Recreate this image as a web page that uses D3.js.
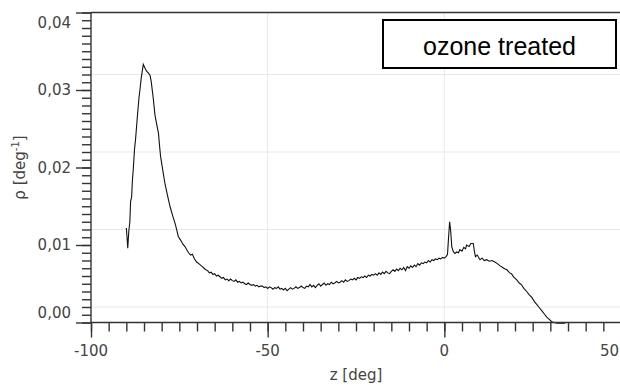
<!DOCTYPE html>
<html><head><meta charset="utf-8">
<script src="https://cdn.jsdelivr.net/npm/d3@7"></script>
<style>body{margin:0;background:#fff}svg{display:block}</style>
</head><body>
<svg id="c" width="620" height="385"></svg>
<script>
const zVals = [-90.0,-89.8,-89.6,-89.3,-89.0,-88.8,-88.5,-88.3,-88.0,-87.7,-87.4,-87.1,-86.8,-86.4,-86.1,-85.8,-85.5,-85.2,-84.9,-84.6,-84.2,-83.8,-83.3,-83.0,-82.8,-82.4,-81.9,-81.5,-80.9,-80.6,-80.3,-79.7,-79.1,-78.4,-77.6,-76.9,-76.2,-75.7,-75.3,-74.6,-74.0,-73.4,-72.9,-72.4,-71.8,-71.3,-70.7,-70.1,-69.5,-69.0,-68.5,-68.0,-67.5,
-67.0,-66.5,-66.0,-65.5,-65.0,-64.5,-64.0,-63.5,-63.0,-62.5,-62.0,-61.5,-61.0,-60.5,-60.0,-59.5,-59.0,-58.5,-58.0,-57.5,-57.0,-56.5,-56.0,-55.5,-55.0,-54.5,-54.0,-53.5,-53.0,-52.5,-52.0,-51.5,-51.0,-50.5,-50.0,-49.5,-49.0,-48.5,-48.0,-47.5,-47.0,-46.5,-46.0,-45.5,-45.0,-44.5,-44.0,-43.5,-43.0,-42.5,-42.0,-41.5,-41.0,-40.5,-40.0,-39.5,-39.0,-38.5,-38.0,-37.5,-37.0,-36.5,-36.0,-35.5,-35.0,-34.5,-34.0,-33.5,-33.0,-32.5,-32.0,-31.5,-31.0,-30.5,-30.0,-29.5,-29.0,-28.5,-28.0,-27.5,-27.0,-26.5,-26.0,-25.5,-25.0,-24.5,-24.0,-23.5,-23.0,-22.5,-22.0,-21.5,-21.0,-20.5,-20.0,-19.5,-19.0,-18.5,-18.0,-17.5,-17.0,-16.5,-16.0,-15.5,-15.0,-14.5,-14.0,-13.5,-13.0,-12.5,-12.0,-11.5,-11.0,-10.5,-10.0,-9.5,-9.0,-8.5,-8.0,-7.5,-7.0,-6.5,-6.0,-5.5,-5.0,-4.5,-4.0,-3.5,-3.0,-2.5,-2.0,-1.5,-1.0,-0.5,0.0,0.5,0.9,1.2,1.5,1.8,2.1,2.5,3.0,3.5,4.0,4.4,5.0,5.5,6.0,6.3,7.0,7.5,8.2,8.5,8.8,9.3,10.1,10.7,11.3,12.0,12.7,13.5,14.3,15.0,15.8,16.5,17.2,17.7,18.5,19.0,19.6,20.5,21.2,21.8,22.5,23.3,24.0,24.8,25.5,26.2,26.9,27.6,28.3,29.0,29.7,30.4,31.0,32.0,33.0,34.2];
const rhoVals = [0.0122,0.0110,0.0096,0.0118,0.0130,0.0156,0.0162,0.0182,0.0200,0.0223,0.0236,0.0253,0.0270,0.0291,0.0302,0.0315,0.0324,0.0333,0.0330,0.0327,0.0324,0.0322,0.0319,0.0312,0.0305,0.0290,0.0268,0.0258,0.0244,0.0228,0.0214,0.0197,0.0180,0.0165,0.0149,0.0138,0.0128,0.0119,0.0111,0.0106,0.0101,0.0098,0.0094,0.0090,0.0087,0.0088,0.0082,0.0078,0.0076,0.0074,0.0072,0.0070,0.0068,
0.0067,0.0064,0.0065,0.0062,0.0063,0.0060,0.0061,0.0059,0.0057,0.0058,0.0055,0.0056,0.0054,0.0056,0.0054,0.0053,0.0055,0.0052,0.0053,0.0051,0.0052,0.0050,0.0049,0.0051,0.0049,0.0048,0.0049,0.0047,0.0048,0.0046,0.0047,0.0047,0.0045,0.0046,0.0044,0.0046,0.0045,0.0043,0.0045,0.0044,0.0046,0.0043,0.0044,0.0042,0.0044,0.0041,0.0043,0.0045,0.0043,0.0044,0.0046,0.0044,0.0045,0.0047,0.0045,0.0044,0.0047,0.0046,0.0049,0.0046,0.0048,0.0045,0.0048,0.0050,0.0047,0.0049,0.0051,0.0048,0.0050,0.0049,0.0052,0.0050,0.0051,0.0053,0.0051,0.0052,0.0054,0.0052,0.0055,0.0053,0.0054,0.0056,0.0055,0.0057,0.0055,0.0058,0.0057,0.0059,0.0058,0.0060,0.0058,0.0061,0.0060,0.0062,0.0061,0.0063,0.0061,0.0064,0.0062,0.0065,0.0063,0.0066,0.0064,0.0063,0.0066,0.0068,0.0066,0.0069,0.0067,0.0070,0.0068,0.0071,0.0067,0.0072,0.0070,0.0073,0.0071,0.0074,0.0072,0.0076,0.0074,0.0077,0.0076,0.0078,0.0077,0.0080,0.0078,0.0081,0.0080,0.0082,0.0081,0.0083,0.0082,0.0084,0.0083,0.0085,0.0088,0.0110,0.0130,0.0118,0.0098,0.0092,0.0089,0.0091,0.0090,0.0094,0.0092,0.0097,0.0095,0.0100,0.0098,0.0102,0.0102,0.0092,0.0085,0.0087,0.0081,0.0083,0.0080,0.0081,0.0079,0.0080,0.0078,0.0076,0.0073,0.0071,0.0069,0.0068,0.0064,0.0063,0.0059,0.0055,0.0051,0.0049,0.0044,0.0040,0.0036,0.0032,0.0027,0.0023,0.0019,0.0015,0.0011,0.0007,0.0004,0.0001,0.0000,-0.0001,-0.0001,-0.0001];
const xTicks = [-100,-50,0,50];
const yTicks = [0,0.01,0.02,0.03,0.04];
const yGrid = [0.002,0.012,0.022,0.032];
const legendText = "ozone treated";

const svg = d3.select("#c");
const x = d3.scaleLinear().domain([-100,50]).range([91,621]);
const y = d3.scaleLinear().domain([0,0.04]).range([322.5,12.5]);
const axisColor = "#333", font = "DejaVu Sans, sans-serif";

// grid
svg.append("g").selectAll("line").data(xTicks.slice(1)).join("line")
  .attr("x1",d=>x(d)).attr("x2",d=>x(d)).attr("y1",y(0.04)).attr("y2",y(0))
  .attr("stroke","#e8e8e8").attr("stroke-width",1);
svg.append("g").selectAll("line").data(yGrid).join("line")
  .attr("x1",x(-100)).attr("x2",620).attr("y1",d=>y(d)).attr("y2",d=>y(d))
  .attr("stroke","#e8e8e8").attr("stroke-width",1);

// curve
const pts = zVals.map((z,i)=>[z,rhoVals[i]]);
svg.append("path").datum(pts)
  .attr("d", d3.line().x(d=>x(d[0])).y(d=>y(d[1])))
  .attr("fill","none").attr("stroke","#111").attr("stroke-width",1.1);

// axes
const xMinor = d3.range(-100,50.1,5);
const yMinor = d3.range(0,41).map(i=>i/1000);
const gx = svg.append("g").attr("transform",`translate(0,${y(0)})`);
gx.call(d3.axisBottom(x).tickValues(xMinor).tickSize(9).tickFormat(""));
gx.append("g").call(d3.axisBottom(x).tickValues(xTicks).tickSize(15).tickFormat(""));
const gy = svg.append("g").attr("transform",`translate(${x(-100)},0)`);
gy.call(d3.axisLeft(y).tickValues(yMinor).tickSize(9).tickFormat(""));
gy.append("g").call(d3.axisLeft(y).tickValues(yTicks).tickSize(15).tickFormat(""));
svg.selectAll(".domain").remove();
svg.selectAll(".tick line").attr("stroke",axisColor).attr("stroke-width",1.4);
// axis lines
svg.append("line").attr("x1",x(-100)).attr("x2",620).attr("y1",y(0)).attr("y2",y(0)).attr("stroke",axisColor).attr("stroke-width",1.4);
svg.append("line").attr("x1",x(-100)).attr("x2",x(-100)).attr("y1",y(0.04)).attr("y2",y(0)).attr("stroke",axisColor).attr("stroke-width",1.4);
svg.append("line").attr("x1",x(-100)).attr("x2",620).attr("y1",y(0.04)).attr("y2",y(0.04)).attr("stroke",axisColor).attr("stroke-width",1.4);

// tick labels
svg.append("g").selectAll("text").data(xTicks).join("text")
  .attr("x",d=>Math.min(x(d),619)).attr("y",356)
  .attr("text-anchor",d=>x(d)>610?"end":"middle")
  .attr("font-family",font).attr("font-size",15).attr("fill","#444")
  .text(d=>d);
svg.append("g").selectAll("text").data(yTicks).join("text")
  .attr("x",71).attr("y",d=>y(d)+(d===0.04?10:d===0?-10:0)).attr("dy","0.36em")
  .attr("text-anchor","end").attr("font-family",font).attr("font-size",15).attr("fill","#444")
  .text(d=>d3.format(".2f")(d).replace(".",","));

// axis titles
svg.append("text").attr("x",(x(-100)+x(50))/2).attr("y",380).attr("text-anchor","middle")
  .attr("font-family",font).attr("font-size",15).attr("fill","#444").text("z [deg]");
const yl = svg.append("text").attr("transform",`translate(25,${(y(0)+y(0.04))/2}) rotate(-90)`)
  .attr("text-anchor","middle").attr("font-family",font).attr("font-size",15).attr("fill","#444");
yl.append("tspan").text("ρ [deg");
yl.append("tspan").attr("font-size",10).attr("dy","-0.6em").text("-1");
yl.append("tspan").attr("dy","0.4em").text("]");

// legend
svg.append("rect").attr("x",383).attr("y",20).attr("width",233).attr("height",48)
  .attr("fill","#fff").attr("stroke","#000").attr("stroke-width",2);
svg.append("text").attr("x",499.5).attr("y",55).attr("text-anchor","middle")
  .attr("font-family","Liberation Sans, Arial, sans-serif").attr("font-size",25).attr("fill","#000")
  .text(legendText);
</script>
</body></html>
